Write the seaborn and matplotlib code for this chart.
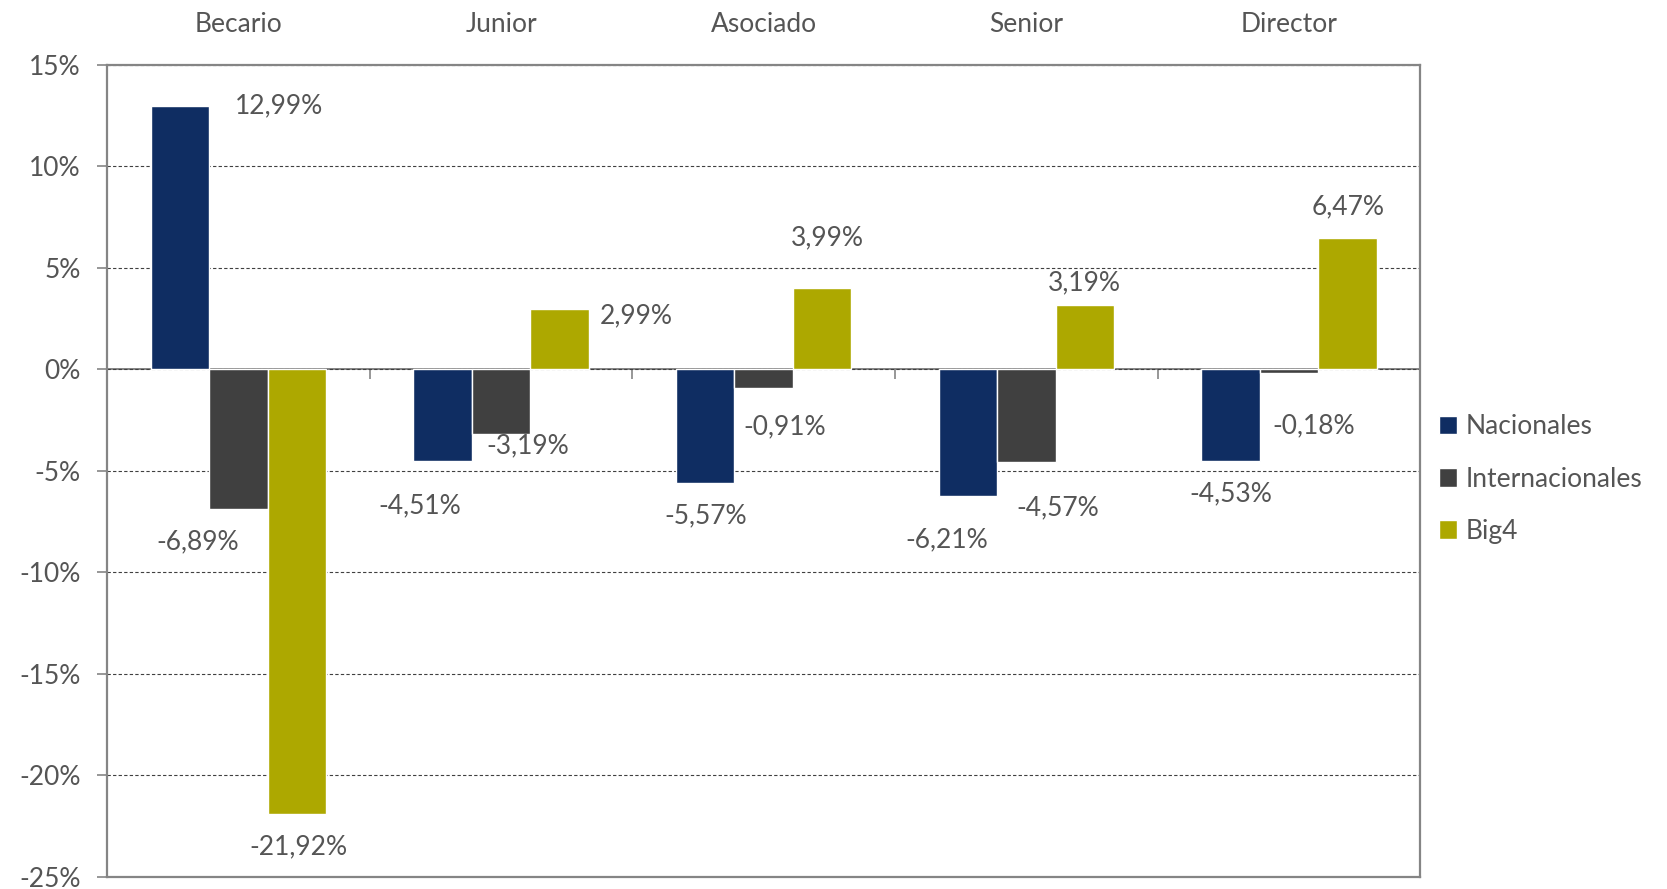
import matplotlib
matplotlib.use("Agg")
import matplotlib.pyplot as plt
import matplotlib.ticker as mticker
import pandas as pd
import seaborn as sns

categorias = ["Becario", "Junior", "Asociado", "Senior", "Director"]
series = ["Nacionales", "Internacionales", "Big4"]
nacionales = [12.99, -4.51, -5.57, -6.21, -4.53]
internacionales = [-6.89, -3.19, -0.91, -4.57, -0.18]
big4 = [-21.92, 2.99, 3.99, 3.19, 6.47]

colores = ["#0F2D62", "#404040", "#ADA800"]
texto = "#555555"
gris = "#858585"
fs = 19

# label offsets in pixels (dx right, dy down) from the bar end, per series/category
offsets = {
    "Nacionales": [(99, 0), (-23, 45), (0, 33), (-21, 44), (0, 32)],
    "Internacionales": [(-41, 32), (27, 12), (21, 39), (31, 46), (25, 53)],
    "Big4": [(2, 32), (77, 7), (5, -51), (0, -22), (1, -31)],
}

df = pd.DataFrame({
    "categoria": categorias * 3,
    "serie": [s for s in series for _ in categorias],
    "valor": nacionales + internacionales + big4,
})

sns.set_style("white")
plt.rcParams["font.family"] = ["Lato", "DejaVu Sans"]

fig = plt.figure(figsize=(16.67, 8.89), dpi=100)
ax = fig.add_axes([0.0642, 0.0135, 0.7878, 0.9135])

sns.barplot(data=df, x="categoria", y="valor", hue="serie", order=categorias,
            hue_order=series, palette=colores, width=0.667, gap=0,
            saturation=1, errorbar=None, ax=ax, zorder=3)

ax.set_xlim(-0.5, 4.5)
ax.set_ylim(-25, 15)
ax.set_xlabel("")
ax.set_ylabel("")
ax.set_yticks(range(-25, 16, 5))
ax.yaxis.set_major_formatter(mticker.FuncFormatter(lambda v, _: f"{v:.0f}%"))
ax.tick_params(axis="y", direction="out", length=7, width=1.2, color=gris,
               labelsize=fs, labelcolor=texto, pad=12, left=True)

ax.xaxis.tick_top()
ax.tick_params(axis="x", length=0, labelsize=fs, labelcolor=texto, pad=20)

ax.set_axisbelow(True)
ax.yaxis.grid(True, linestyle=(0, (3, 2)), color="#404040", linewidth=0.8)
for sp in ax.spines.values():
    sp.set_visible(True)
    sp.set_color(gris)
    sp.set_linewidth(1.6)

# zero line with category separators
zero = ax.secondary_xaxis(25 / 40)
zero.set_xticks([0.5, 1.5, 2.5, 3.5])
zero.set_xticklabels([])
zero.xaxis.set_ticks_position("bottom")
zero.tick_params(direction="out", length=7, width=1.2, color=gris)
for sp in zero.spines.values():
    sp.set_color(gris)
    sp.set_linewidth(1.4)

for cont, serie in zip(ax.containers, series):
    for bar, (dx, dy) in zip(cont, offsets[serie]):
        x = bar.get_x() + bar.get_width() / 2
        val = bar.get_y() + bar.get_height()
        txt = f"{val:.2f}".replace(".", ",") + "%"
        ax.annotate(txt, (x, val), xytext=(dx, -dy), textcoords="offset pixels",
                    ha="center", va="center", fontsize=fs, color=texto, zorder=5)

leg = ax.legend(loc="center left", bbox_to_anchor=(1.0, 0.49), frameon=False,
                fontsize=fs, handlelength=0.7, handleheight=0.7,
                handletextpad=0.3, labelspacing=1.03, borderaxespad=0.3)
for t in leg.get_texts():
    t.set_color(texto)

fig.savefig("out.png", dpi=100)
